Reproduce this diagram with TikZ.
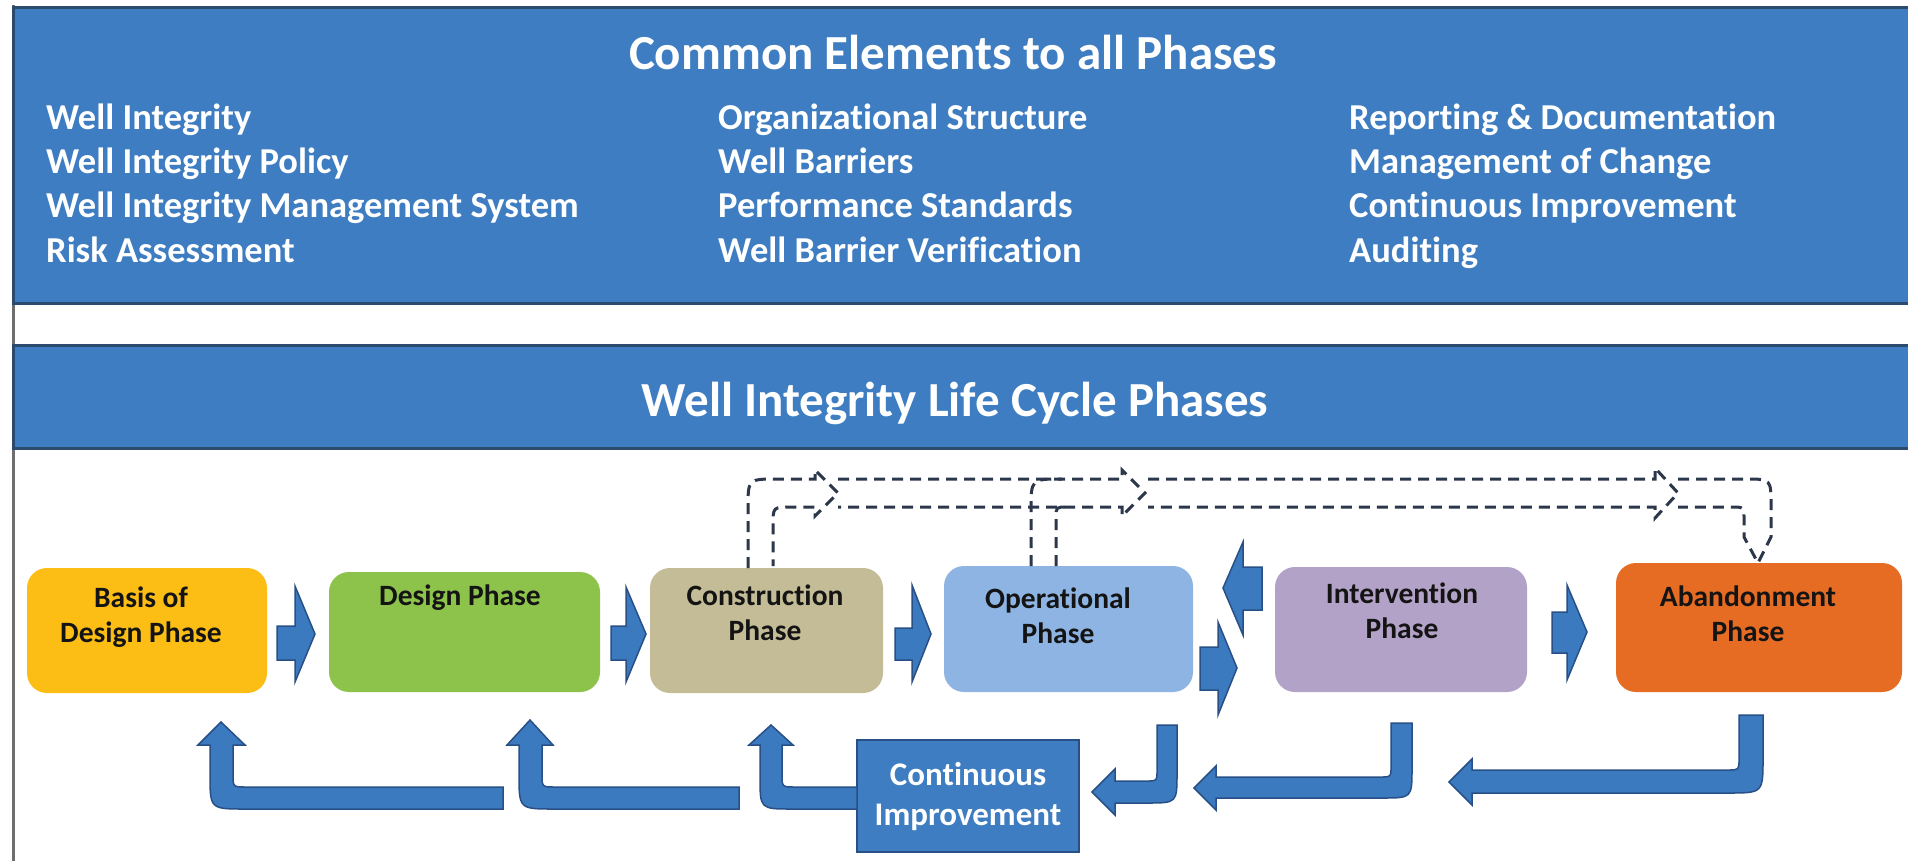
\documentclass[tikz,border=0pt]{standalone}
\usepackage{fontspec}
\setmainfont{Carlito}[Ligatures=NoCommon]
\definecolor{hdrblue}{RGB}{62,125,193}
\definecolor{hdredge}{RGB}{44,74,110}
\definecolor{arrowblue}{RGB}{60,122,192}
\definecolor{arrowedge}{RGB}{40,80,135}
\definecolor{framegray}{RGB}{110,110,110}
\definecolor{dashcol}{RGB}{45,55,75}
\definecolor{txtdark}{RGB}{20,20,20}
\definecolor{cbasis}{RGB}{252,190,20}
\definecolor{cdesign}{RGB}{141,194,75}
\definecolor{cconstr}{RGB}{196,188,150}
\definecolor{coper}{RGB}{142,180,227}
\definecolor{cinterv}{RGB}{179,162,199}
\definecolor{caband}{RGB}{230,108,36}
\tikzset{
  hdrbox/.style={fill=hdrblue, draw=hdredge, line width=3pt},
  titletxt/.style={font=\fontsize{49}{58}\selectfont\bfseries, text=white, inner sep=0pt},
  listtxt/.style={font=\fontsize{36.5}{44}\selectfont\bfseries, text=white, inner sep=0pt},
  phasebox/.style={rounded corners=20pt, inner sep=0pt},
  phasetxt/.style={font=\fontsize{29.5}{35}\selectfont\bfseries, text=txtdark, align=center, inner sep=0pt},
  citxt/.style={font=\fontsize{33}{40}\selectfont\bfseries, text=white, align=center, inner sep=0pt},
  barrow/.style={fill=arrowblue, draw=arrowedge, line width=1.5pt, line join=miter},
  dashline/.style={draw=dashcol, line width=3pt, dash pattern=on 11pt off 7pt}
}
\begin{document}
\begin{tikzpicture}[x=1pt,y=-1pt]
\clip (0,0) rectangle (1908,860);
\fill[white] (0,0) rectangle (1908,860);
\draw[framegray, line width=3pt] (13,5) -- (13,862);
% top box
\draw[hdrbox] (13,7) rectangle (1915,303);
\node[titletxt, anchor=base] (ttop) at (953,69) {Common Elements to all Phases};
\foreach \t [count=\i] in {Well Integrity, Well Integrity Policy, Well Integrity Management System, Risk Assessment}
  \node[listtxt, anchor=base west] (la\i) at (46,{129.5+44.2*(\i-1)}) {\t};
\foreach \t [count=\i] in {Organizational Structure, Well Barriers, Performance Standards, Well Barrier Verification}
  \node[listtxt, anchor=base west] (lb\i) at (718,{129.5+44.2*(\i-1)}) {\t};
\foreach \t [count=\i] in {Reporting \& Documentation, Management of Change, Continuous Improvement, Auditing}
  \node[listtxt, anchor=base west] (lc\i) at (1349,{129.5+44.2*(\i-1)}) {\t};
% second header
\draw[hdrbox] (13,345) rectangle (1915,448);
\node[titletxt, anchor=base] (tbot) at (955,416) {Well Integrity Life Cycle Phases};
% phase boxes
\node[phasebox, fill=cbasis, minimum width=240pt, minimum height=125pt] (basis) at (147,630.5) {};
\node[phasebox, fill=cdesign, minimum width=271pt, minimum height=120pt] (design) at (464.5,632) {};
\node[phasebox, fill=cconstr, minimum width=233pt, minimum height=125pt] (constr) at (766.5,630.5) {};
\node[phasebox, fill=coper, minimum width=249pt, minimum height=126pt] (oper) at (1068.5,629) {};
\node[phasebox, fill=cinterv, minimum width=252pt, minimum height=125pt] (interv) at (1401,629.5) {};
\node[phasebox, fill=caband, minimum width=286pt, minimum height=129pt] (aband) at (1759,627.5) {};
\node[phasetxt] (basisT) at (141,617) {Basis of\\Design Phase};
\node[phasetxt] (designT) at (460,598) {Design Phase};
\node[phasetxt] (constrT) at (765,613) {Construction\\Phase};
\node[phasetxt] (operT) at (1058,616) {Operational\\Phase};
\node[phasetxt] (intervT) at (1402,611) {Intervention\\Phase};
\node[phasetxt] (abandT) at (1748,614) {Abandonment\\Phase};
% continuous improvement
\node[fill=hdrblue, draw=arrowedge, line width=2pt, minimum width=222pt, minimum height=112pt, inner sep=0pt] (ci) at (968,796) {};
\node[citxt] (ciT) at (968,797) {Continuous\\Improvement};
% forward block arrows
\draw[barrow] (277,626) -- (295,626) -- (295,586) -- (315,634) -- (295,682) -- (295,660) -- (277,660) -- cycle;
\draw[barrow] (611,626) -- (626,626) -- (626,587) -- (646,634) -- (626,682) -- (626,660) -- (611,660) -- cycle;
\draw[barrow] (895,628) -- (912,628) -- (912,585) -- (931,634) -- (912,682) -- (912,660) -- (895,660) -- cycle;
\draw[barrow] (1262,567) -- (1243,567) -- (1243,542) -- (1223,588) -- (1243,635) -- (1243,610) -- (1262,610) -- cycle;
\draw[barrow] (1200,647) -- (1218,647) -- (1218,622) -- (1237,668) -- (1218,715) -- (1218,690) -- (1200,690) -- cycle;
\draw[barrow] (1552,612) -- (1567,612) -- (1567,585) -- (1587,632) -- (1567,680) -- (1567,653) -- (1552,653) -- cycle;
% return block arrows
\draw[barrow] (1739,715) -- (1763,715) -- (1763,758) .. controls (1763,793) .. (1728,793) -- (1472,793) -- (1472,805) -- (1449,782) -- (1472,759) -- (1472,770) -- (1728,770) .. controls (1739,770) .. (1739,759) -- cycle;
\draw[barrow] (1391,723) -- (1412,723) -- (1412,768) .. controls (1412,798) .. (1382,798) -- (1216,798) -- (1216,810) -- (1194,788) -- (1216,766) -- (1216,777) -- (1381,777) .. controls (1391,777) .. (1391,767) -- cycle;
\draw[barrow] (1157,725) -- (1177,725) -- (1177,773) .. controls (1177,803) .. (1147,803) -- (1115,803) -- (1115,815) -- (1092,792) -- (1115,769) -- (1115,781) -- (1147,781) .. controls (1157,781) .. (1157,771) -- cycle;
\draw[barrow] (771,725) -- (793,745) -- (782,745) -- (782,774) .. controls (782,787) .. (795,787) -- (857,787) -- (857,809) -- (792,809) .. controls (760,809) .. (760,777) -- (760,745) -- (749,745) -- cycle;
\draw[barrow] (530,720) -- (553,745) -- (542,745) -- (542,774) .. controls (542,787) .. (555,787) -- (739,787) -- (739,809) -- (554,809) .. controls (519,809) .. (519,774) -- (519,745) -- (507,745) -- cycle;
\draw[barrow] (221,722) -- (245,745) -- (233,745) -- (233,774) .. controls (233,787) .. (246,787) -- (503,787) -- (503,809) -- (245,809) .. controls (210,809) .. (210,774) -- (210,745) -- (198,745) -- cycle;
% dashed outline arrows
\draw[dashline] (748,568) -- (748,508) .. controls (748,479) .. (777,479) -- (815,479) -- (815,470) -- (838,493) -- (815,516) -- (815,507) -- (791,507) .. controls (773,507) .. (773,525) -- (773,566);
\draw[dashline] (838,479) -- (1122,479) -- (1122,470) -- (1145,493) -- (1122,516) -- (1122,507) -- (838,507);
\draw[dashline] (1031,566) -- (1031,510) .. controls (1031,479) .. (1062,479);
\draw[dashline] (1056,566) -- (1056,518) .. controls (1056,507) .. (1067,507);
\draw[dashline] (1148,479) -- (1655,479) -- (1655,468) -- (1678,493) -- (1655,518) -- (1655,507) -- (1148,507);
\draw[dashline] (1678,479) -- (1745,479) .. controls (1771,479) .. (1771,505) -- (1771,537) -- (1758,563) -- (1744,537) -- (1744,520) .. controls (1744,507) .. (1731,507) -- (1678,507);
\end{tikzpicture}
\end{document}
